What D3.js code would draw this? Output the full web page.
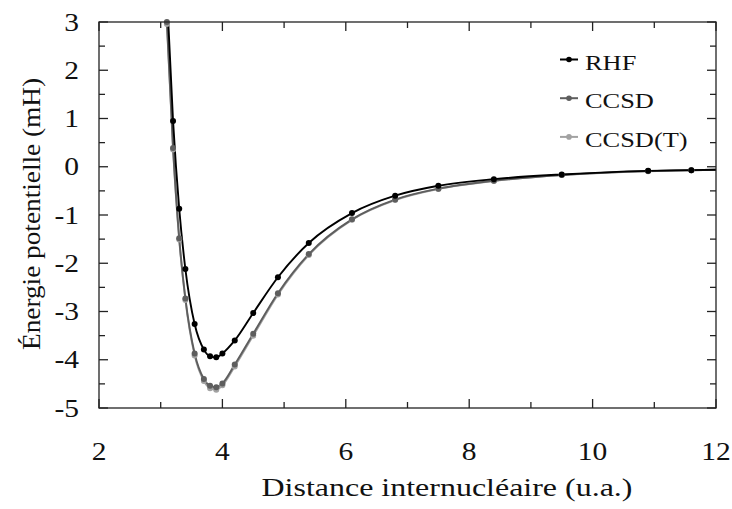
<!DOCTYPE html>
<html><head><meta charset="utf-8">
<script src="https://cdn.jsdelivr.net/npm/d3@7"></script>
<style>body{margin:0;background:#fff}svg{display:block}</style>
</head><body><svg id="c" width="732" height="509"></svg>
<script>
const distances = [3.1, 3.2, 3.3, 3.4, 3.55, 3.7, 3.8, 3.9, 4.0, 4.2, 4.5, 4.9, 5.4, 6.1, 6.8, 7.5, 8.4, 9.5, 10.9, 11.6, 12.5];
const rhf      = [3.6, 0.95, -0.87, -2.12, -3.26, -3.79, -3.93, -3.95, -3.87, -3.60, -3.03, -2.29, -1.58, -0.96, -0.60, -0.395, -0.257, -0.16, -0.085, -0.07, -0.05];
const ccsd     = [3.0, 0.39, -1.48, -2.73, -3.87, -4.40, -4.54, -4.57, -4.49, -4.10, -3.46, -2.62, -1.81, -1.09, -0.68, -0.455, -0.29, -0.17, -0.09, -0.072, -0.05];
const ccsdT    = [2.96, 0.36, -1.51, -2.76, -3.91, -4.44, -4.59, -4.62, -4.53, -4.14, -3.50, -2.65, -1.83, -1.10, -0.69, -0.46, -0.295, -0.172, -0.092, -0.073, -0.05];
const seriesNames = ["RHF", "CCSD", "CCSD(T)"];
const seriesColors = ["#000000", "#5e5e5e", "#a2a2a2"];
const xTicks = [2, 4, 6, 8, 10, 12];
const xMinor = [3, 5, 7, 9, 11];
const yTicks = [3, 2, 1, 0, -1, -2, -3, -4, -5];
const yMinor = [2.5, 1.5, 0.5, -0.5, -1.5, -2.5, -3.5, -4.5];
const xTitle = "Distance internucléaire (u.a.)";
const yTitle = "Énergie potentielle (mH)";

const FONT = "'Liberation Serif', 'Times New Roman', Times, serif";
const svg = d3.select("#c");
const L = 99, R = 716, T = 22, B = 408;
const x = d3.scaleLinear().domain([2, 12]).range([L, R]);
const y = d3.scaleLinear().domain([-5, 3]).range([B, T]);

svg.append("defs").append("clipPath").attr("id", "clip")
  .append("rect").attr("x", L).attr("y", T).attr("width", R - L).attr("height", B - T);

const allSeries = [rhf, ccsd, ccsdT];
const line = d3.line().x(d => x(d[0])).y(d => y(d[1])).curve(d3.curveMonotoneX);
const plot = svg.append("g").attr("clip-path", "url(#clip)");
const marks = svg.append("g");
[2, 1, 0].forEach(i => {
  const pts = distances.map((d, j) => [d, allSeries[i][j]]);
  plot.append("path").attr("d", line(pts)).attr("fill", "none")
    .attr("stroke", seriesColors[i]).attr("stroke-width", 1.9);
  marks.selectAll(null).data(pts.filter(p => p[0] <= 12 && p[1] <= 3.05)).enter().append("circle")
    .attr("cx", d => x(d[0])).attr("cy", d => y(d[1])).attr("r", 3)
    .attr("fill", seriesColors[i]);
});

svg.append("rect").attr("x", L).attr("y", T).attr("width", R - L).attr("height", B - T)
  .attr("fill", "none").attr("stroke", "#222").attr("stroke-width", 1.3);

const tk = svg.append("g").attr("stroke", "#222").attr("stroke-width", 1.3);
const majorLen = 9, minorLen = 6;
xTicks.concat(xMinor).forEach(v => {
  const len = xTicks.includes(v) ? majorLen : minorLen;
  tk.append("line").attr("x1", x(v)).attr("x2", x(v)).attr("y1", B).attr("y2", B - len);
  tk.append("line").attr("x1", x(v)).attr("x2", x(v)).attr("y1", T).attr("y2", T + len);
});
yTicks.concat(yMinor).forEach(v => {
  const len = yTicks.includes(v) ? majorLen : minorLen;
  tk.append("line").attr("y1", y(v)).attr("y2", y(v)).attr("x1", L).attr("x2", L + len);
  tk.append("line").attr("y1", y(v)).attr("y2", y(v)).attr("x1", R).attr("x2", R - len);
});

function txt(g, s, size) {
  return g.append("text").attr("font-family", FONT).attr("font-size", size)
    .attr("fill", "#111").text(s);
}
const SX = 1.18;
xTicks.forEach(v => {
  txt(svg.append("g").attr("transform", `translate(${x(v)},460) scale(${SX},1)`), v, 25)
    .attr("text-anchor", "middle");
});
yTicks.forEach(v => {
  txt(svg.append("g").attr("transform", `translate(79,${y(v) + 8.5}) scale(${SX},1)`), v, 25)
    .attr("text-anchor", "end");
});

txt(svg, xTitle, 26).attr("x", 447).attr("y", 496).attr("text-anchor", "middle")
  .attr("textLength", 371).attr("lengthAdjust", "spacingAndGlyphs");
txt(svg.append("g").attr("transform", "translate(40,214) rotate(-90)"), yTitle, 26)
  .attr("text-anchor", "middle").attr("textLength", 272).attr("lengthAdjust", "spacingAndGlyphs");

const lg = svg.append("g");
seriesNames.forEach((n, i) => {
  const cy = 59.5 + i * 38.7;
  lg.append("line").attr("x1", 560).attr("x2", 578).attr("y1", cy).attr("y2", cy)
    .attr("stroke", seriesColors[i]).attr("stroke-width", 2);
  lg.append("circle").attr("cx", 569).attr("cy", cy).attr("r", 2.8).attr("fill", seriesColors[i]);
  txt(lg.append("g").attr("transform", `translate(585,${cy + 10}) scale(1.2,1)`), n, 22);
});
</script></body></html>
